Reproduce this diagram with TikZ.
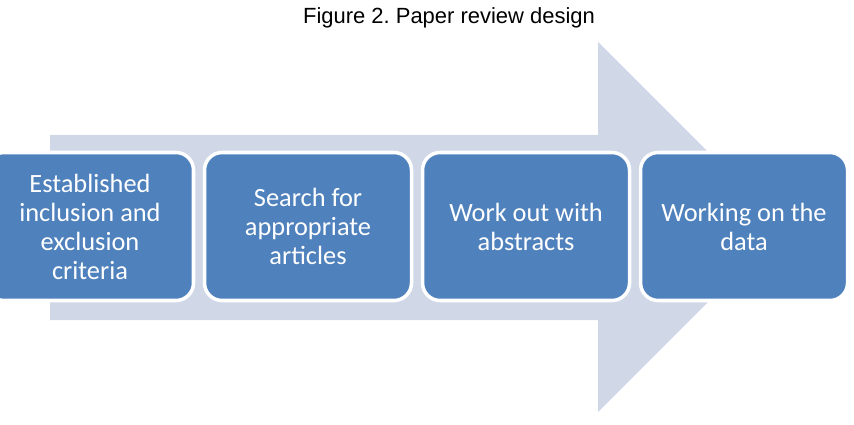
\documentclass[tikz,border=0pt]{standalone}
\usepackage{fontspec}
\setmainfont{Carlito}
\newfontfamily\arialfont{Liberation Sans}
\usetikzlibrary{positioning}
\definecolor{stepblue}{RGB}{79,129,189}
\definecolor{arrowgray}{RGB}{208,216,232}

\begin{document}
\begin{tikzpicture}[font=\fontsize{15}{16.5}\selectfont,
  stepbox/.style={fill=stepblue, draw=white, line width=2pt, rounded corners=10pt,
    minimum width=4.14cm, minimum height=2.96cm, align=center, text=white}]
  \useasboundingbox (0,0) rectangle (17.08,8.48);
  % big background arrow
  \fill[arrowgray] (1.0,2.08) -- (1.0,5.78) -- (11.96,5.78) -- (11.96,7.64)
    -- (15.66,3.94) -- (11.96,0.24) -- (11.96,2.08) -- cycle;
  % title
  \node[font=\arialfont\frenchspacing\fontsize{12.5}{15}\selectfont] (title) at (8.98,8.12) {Figure 2. Paper review design};
  % steps
  \node[stepbox] (crit) at (1.8,3.95) {Established\\inclusion and\\exclusion\\criteria};
  \node[stepbox, right=0.15cm of crit] (search) {Search for\\appropriate\\articles};
  \node[stepbox, right=0.15cm of search] (abstr) {Work out with\\abstracts};
  \node[stepbox, right=0.15cm of abstr] (data) {Working on the\\data};
\end{tikzpicture}
\end{document}
